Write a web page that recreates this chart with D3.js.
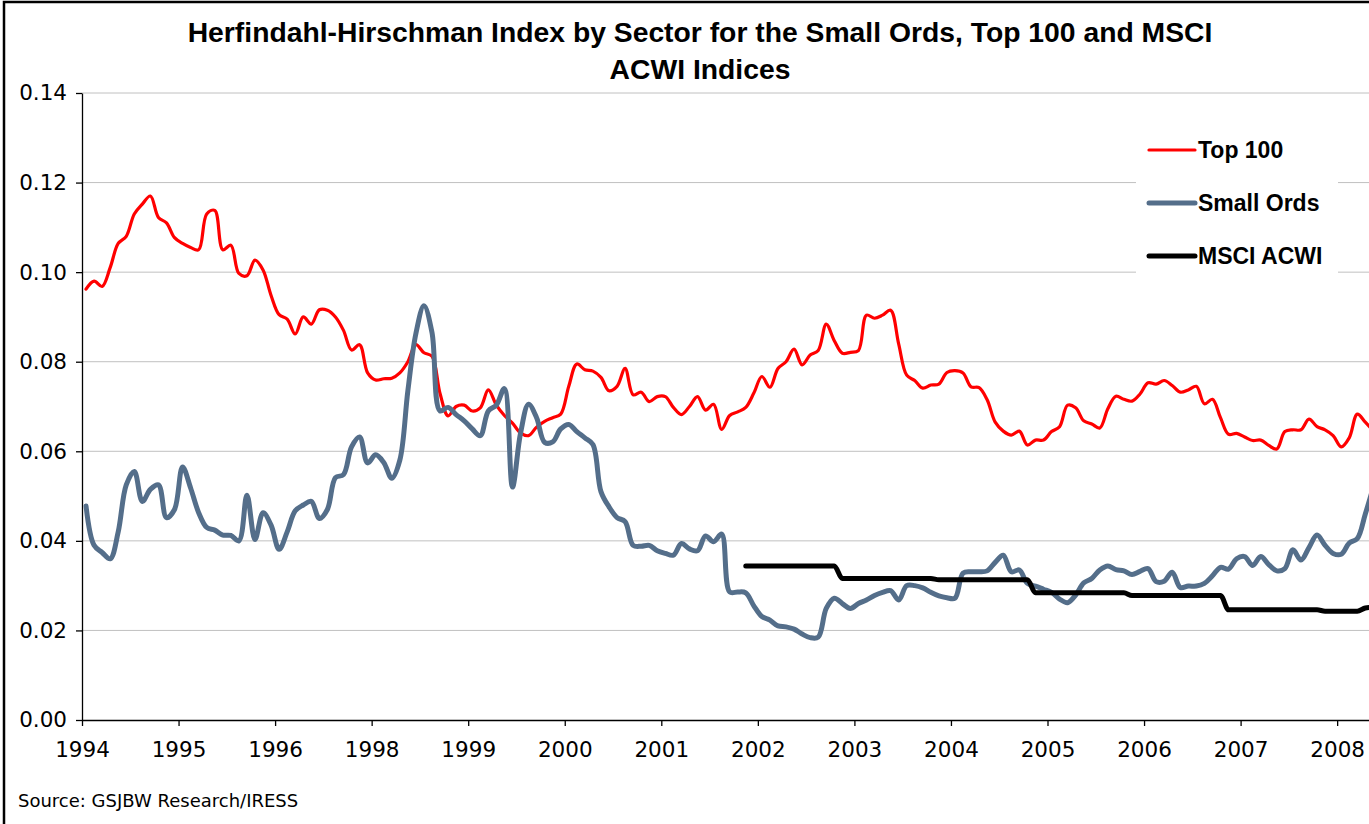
<!DOCTYPE html>
<html>
<head>
<meta charset="utf-8">
<script src="https://cdn.jsdelivr.net/npm/d3@7"></script>
<style>
  body { margin: 0; background: #fff; }
  svg { display: block; }
</style>
</head>
<body>
<svg id="chart" width="1369" height="824"></svg>
<script>
'use strict';

// monthly readings, Jan 1994 onwards (category axis, labels every 12 months)
var yearLabels = ['1994', '1995', '1996', '1998', '1999', '2000', '2001', '2002', '2003', '2004', '2005', '2006', '2007', '2008'];
var yTicks = [0, 0.02, 0.04, 0.06, 0.08, 0.10, 0.12, 0.14];

var top100 = [
  0.0962, 0.0980, 0.0968, 0.1010, 0.1064, 0.1080, 0.1130, 0.1152, 0.1170, 0.1122,
  0.1110, 0.1077, 0.1064, 0.1055, 0.1050, 0.1130, 0.1138, 0.1050, 0.1060, 0.0997,
  0.0992, 0.1027, 0.1005, 0.0948, 0.0905, 0.0895, 0.0862, 0.0900, 0.0884, 0.0916,
  0.0915, 0.0900, 0.0870, 0.0826, 0.0838, 0.0775, 0.0759, 0.0762, 0.0763, 0.0775,
  0.0800, 0.0838, 0.0820, 0.0812, 0.0729, 0.0679, 0.0700, 0.0703, 0.0690, 0.0697,
  0.0737, 0.0703, 0.0680, 0.0663, 0.0641, 0.0635, 0.0654, 0.0667, 0.0675, 0.0683,
  0.0745, 0.0795, 0.0782, 0.0779, 0.0765, 0.0735, 0.0745, 0.0785, 0.0726, 0.0732,
  0.0711, 0.0722, 0.0722, 0.0698, 0.0682, 0.0700, 0.0722, 0.0692, 0.0705, 0.0649,
  0.0680, 0.0688, 0.0698, 0.0730, 0.0767, 0.0743, 0.0785, 0.0800, 0.0828, 0.0793,
  0.0815, 0.0825, 0.0884, 0.0847, 0.0819, 0.0821, 0.0825, 0.0904, 0.0897, 0.0904,
  0.0915, 0.0840, 0.0770, 0.0758, 0.0741, 0.0748, 0.0750, 0.0776, 0.0780, 0.0775,
  0.0744, 0.0742, 0.0715, 0.0665, 0.0645, 0.0636, 0.0645, 0.0614, 0.0625, 0.0625,
  0.0644, 0.0655, 0.0703, 0.0697, 0.0668, 0.0661, 0.0652, 0.0695, 0.0723, 0.0716,
  0.0712, 0.0728, 0.0753, 0.0750, 0.0758, 0.0747, 0.0732, 0.0737, 0.0745, 0.0706,
  0.0716, 0.0675, 0.0638, 0.0640, 0.0632, 0.0624, 0.0625, 0.0613, 0.0605, 0.0644,
  0.0648, 0.0648, 0.0672, 0.0655, 0.0648, 0.0635, 0.0610, 0.0630, 0.0683, 0.0665,
  0.0645
];

var smallOrds = [
  0.0478, 0.0390, 0.0374, 0.0360, 0.0420, 0.0525, 0.0555, 0.0488, 0.0515, 0.0525,
  0.0452, 0.0470, 0.0565, 0.0518, 0.0463, 0.0430, 0.0424, 0.0413, 0.0412, 0.0400,
  0.0502, 0.0403, 0.0463, 0.0435, 0.0381, 0.0420, 0.0467, 0.0480, 0.0488, 0.0450,
  0.0470, 0.0541, 0.0548, 0.0610, 0.0632, 0.0574, 0.0592, 0.0575, 0.0540, 0.0580,
  0.0735, 0.0863, 0.0925, 0.0865, 0.0690, 0.0698, 0.0682, 0.0668, 0.0650, 0.0635,
  0.0690, 0.0703, 0.0740, 0.0520, 0.0640, 0.0705, 0.0675, 0.0620, 0.0621, 0.0650,
  0.0660, 0.0644, 0.0630, 0.0615, 0.0510, 0.0476, 0.0452, 0.0443, 0.0390, 0.0388,
  0.0390, 0.0378, 0.0372, 0.0368, 0.0394, 0.0382, 0.0378, 0.0411, 0.0398, 0.0415,
  0.0286, 0.0286, 0.0284, 0.0255, 0.0231, 0.0223, 0.0210, 0.0208, 0.0203, 0.0192,
  0.0184, 0.0185, 0.0249, 0.0272, 0.0260, 0.0249, 0.0260, 0.0268, 0.0278, 0.0285,
  0.0289, 0.0268, 0.0300, 0.0300, 0.0295, 0.0285, 0.0277, 0.0273, 0.0272, 0.0328,
  0.0331, 0.0331, 0.0333, 0.0352, 0.0368, 0.0331, 0.0335, 0.0305, 0.0299, 0.0292,
  0.0285, 0.0270, 0.0262, 0.0279, 0.0306, 0.0316, 0.0335, 0.0344, 0.0336, 0.0333,
  0.0325, 0.0332, 0.0338, 0.0309, 0.0310, 0.0330, 0.0296, 0.0299, 0.0299, 0.0305,
  0.0322, 0.0341, 0.0337, 0.0360, 0.0365, 0.0345, 0.0365, 0.0347, 0.0333, 0.0338,
  0.0380, 0.0357, 0.0385, 0.0413, 0.0390, 0.0372, 0.0370, 0.0395, 0.0405, 0.0460,
  0.0520
];

// MSCI ACWI starts in Nov 2000 (month index 82)
var msciStart = 82;
var msciAcwi = [
  0.0344, 0.0344, 0.0344, 0.0344, 0.0344, 0.0344, 0.0344, 0.0344, 0.0344, 0.0344,
  0.0344, 0.0344, 0.0316, 0.0316, 0.0316, 0.0316, 0.0316, 0.0316, 0.0316, 0.0316,
  0.0316, 0.0316, 0.0316, 0.0316, 0.0313, 0.0313, 0.0313, 0.0313, 0.0313, 0.0313,
  0.0313, 0.0313, 0.0313, 0.0313, 0.0313, 0.0313, 0.0284, 0.0284, 0.0284, 0.0284,
  0.0284, 0.0284, 0.0284, 0.0284, 0.0284, 0.0284, 0.0284, 0.0284, 0.0278, 0.0278,
  0.0278, 0.0278, 0.0278, 0.0278, 0.0278, 0.0278, 0.0278, 0.0278, 0.0278, 0.0278,
  0.0246, 0.0246, 0.0246, 0.0246, 0.0246, 0.0246, 0.0246, 0.0246, 0.0246, 0.0246,
  0.0246, 0.0246, 0.0243, 0.0243, 0.0243, 0.0243, 0.0243, 0.0250, 0.0252
];

var seriesNames = ['Top 100', 'Small Ords', 'MSCI ACWI'];
var seriesColors = ['#ff0000', '#546e8a', '#000000'];
var seriesWidths = [3.2, 5, 5];

var svg = d3.select('#chart');
var plotLeft = 82, plotTop = 93, plotBottom = 720;

var x = d3.scaleLinear().domain([0, 168]).range([plotLeft, plotLeft + 96.55 * 14]);
var y = d3.scaleLinear().domain([0, 0.14]).range([plotBottom, plotTop]);

// frame
svg.append('path')
  .attr('d', 'M4,824V2H1369')
  .attr('fill', 'none')
  .attr('stroke', '#000')
  .attr('stroke-width', 2.5);

// title
var title = svg.append('text')
  .attr('text-anchor', 'middle')
  .style('font-family', '"Liberation Sans", Arial, sans-serif')
  .style('font-weight', 'bold')
  .style('font-size', '28.3px');
title.append('tspan').attr('x', 700).attr('y', 42)
  .text('Herfindahl-Hirschman Index by Sector for the Small Ords, Top 100 and MSCI');
title.append('tspan').attr('x', 700).attr('y', 79).text('ACWI Indices');

// gridlines
svg.append('g').selectAll('line')
  .data(yTicks.filter(function(d) { return d > 0; }))
  .enter().append('line')
    .attr('x1', plotLeft).attr('x2', 1369)
    .attr('y1', function(d) { return y(d); })
    .attr('y2', function(d) { return y(d); })
    .attr('stroke', '#c0c0c0')
    .attr('stroke-width', 1);

// axes
var yAxis = svg.append('g')
  .attr('transform', 'translate(' + plotLeft + ',0)')
  .call(d3.axisLeft(y).tickValues(yTicks).tickFormat(d3.format('.2f')).tickSize(6).tickSizeOuter(0).tickPadding(9));

var xAxis = svg.append('g')
  .attr('transform', 'translate(0,' + plotBottom + ')')
  .call(d3.axisBottom(x)
    .tickValues(yearLabels.map(function(d, i) { return i * 12; }))
    .tickFormat(function(d, i) { return yearLabels[i]; })
    .tickSize(6).tickSizeOuter(0).tickPadding(16));

[yAxis, xAxis].forEach(function(ax) {
  ax.selectAll('path, line').attr('stroke', '#000').attr('stroke-width', 1.3);
  ax.selectAll('text')
    .attr('fill', '#000')
    .style('font-family', '"DejaVu Sans", Verdana, sans-serif')
    .style('font-size', '21.5px');
});

// series
var line = d3.line()
  .x(function(d) { return x(d.i + 0.5); })
  .y(function(d) { return y(d.v); })
  .curve(d3.curveCatmullRom.alpha(0.5));

var stepLine = d3.line()
  .x(function(d) { return x(d.i + 0.5); })
  .y(function(d) { return y(d.v); })
  .curve(d3.curveMonotoneX);

var seriesData = [
  top100.map(function(v, i) { return {i: i, v: v}; }),
  smallOrds.map(function(v, i) { return {i: i, v: v}; }),
  msciAcwi.map(function(v, i) { return {i: i + msciStart, v: v}; })
];

seriesData.forEach(function(data, k) {
  svg.append('path')
    .datum(data)
    .attr('d', k === 2 ? stepLine : line)
    .attr('fill', 'none')
    .attr('stroke', seriesColors[k])
    .attr('stroke-width', seriesWidths[k])
    .attr('stroke-linejoin', 'round')
    .attr('stroke-linecap', 'round');
});

// legend
var legend = svg.append('g');
legend.append('rect')
  .attr('x', 1136).attr('y', 122).attr('width', 202).attr('height', 160)
  .attr('fill', '#fff');
var legendY = [150, 203, 256];
seriesNames.forEach(function(name, k) {
  legend.append('line')
    .attr('x1', 1149).attr('x2', 1195)
    .attr('y1', legendY[k]).attr('y2', legendY[k])
    .attr('stroke', seriesColors[k])
    .attr('stroke-width', seriesWidths[k])
    .attr('stroke-linecap', 'round');
  legend.append('text')
    .attr('x', 1198).attr('y', legendY[k] + 8)
    .style('font-family', '"Liberation Sans", Arial, sans-serif')
    .style('font-weight', 'bold')
    .style('font-size', '23px')
    .text(name);
});

// source note
svg.append('text')
  .attr('x', 18).attr('y', 807)
  .style('font-family', '"DejaVu Sans", Verdana, sans-serif')
  .style('font-size', '18px')
  .text('Source:  GSJBW Research/IRESS');
</script>
</body>
</html>
